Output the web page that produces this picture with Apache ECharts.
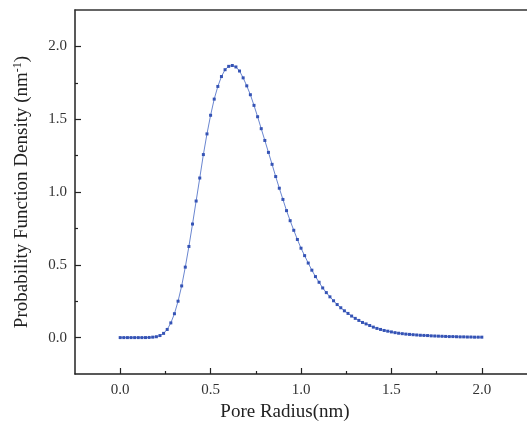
<!DOCTYPE html>
<html>
<head>
<meta charset="utf-8">
<script src="https://cdn.jsdelivr.net/npm/echarts@6/dist/echarts.min.js"></script>
<style>html,body{margin:0;padding:0;background:#fff}#c{width:527px;height:427px}</style>
</head>
<body>
<div id="c"></div>
<script>
var radius = [0.00,0.02,0.04,0.06,0.08,0.10,0.12,0.14,0.16,0.18,
  0.20,0.22,0.24,0.26,0.28,0.30,0.32,0.34,0.36,0.38,
  0.40,0.42,0.44,0.46,0.48,0.50,0.52,0.54,0.56,0.58,
  0.60,0.62,0.64,0.66,0.68,0.70,0.72,0.74,0.76,0.78,
  0.80,0.82,0.84,0.86,0.88,0.90,0.92,0.94,0.96,0.98,
  1.00,1.02,1.04,1.06,1.08,1.10,1.12,1.14,1.16,1.18,
  1.20,1.22,1.24,1.26,1.28,1.30,1.32,1.34,1.36,1.38,
  1.40,1.42,1.44,1.46,1.48,1.50,1.52,1.54,1.56,1.58,
  1.60,1.62,1.64,1.66,1.68,1.70,1.72,1.74,1.76,1.78,
  1.80,1.82,1.84,1.86,1.88,1.90,1.92,1.94,1.96,1.98,2.00];
var density = [0,0,0,0,0,0,0,0.0002,0.001,0.003,
  0.006,0.014,0.029,0.056,0.101,0.164,0.250,0.355,0.484,0.626,
  0.780,0.938,1.096,1.257,1.399,1.527,1.638,1.725,1.793,1.840,
  1.863,1.869,1.859,1.831,1.784,1.729,1.668,1.595,1.517,1.435,
  1.354,1.272,1.190,1.106,1.026,0.949,0.872,0.803,0.737,0.674,
  0.614,0.563,0.512,0.463,0.419,0.380,0.341,0.309,0.280,0.253,
  0.227,0.205,0.184,0.166,0.148,0.132,0.118,0.104,0.094,0.083,
  0.072,0.063,0.056,0.049,0.044,0.039,0.034,0.030,0.027,0.024,
  0.022,0.020,0.018,0.016,0.015,0.014,0.012,0.011,0.010,0.009,
  0.008,0.007,0.007,0.006,0.005,0.005,0.004,0.004,0.003,0.003,0.003];
var xMajor = [0, 0.5, 1.0, 1.5, 2.0];
var xMinor = [0.25, 0.75, 1.25, 1.75];
var yMajor = [0, 0.5, 1.0, 1.5, 2.0];
var yMinor = [0.25, 0.75, 1.25, 1.75];

var pts = radius.map(function (r, i) { return [r, density[i]]; });
var serif = '"Liberation Serif", "DejaVu Serif", serif';
var lineStyle = { color: '#222', width: 1.5 };

var chart = echarts.init(document.getElementById('c'), null, { renderer: 'canvas' });
chart.setOption({
  animation: false,
  backgroundColor: '#fff',
  grid: { left: 75, right: -2, top: 10, bottom: 50 },
  xAxis: [
    {
      type: 'value', position: 'bottom', min: -0.25, max: 2.25,
      axisLine: { show: true, onZero: false, lineStyle: lineStyle },
      axisTick: { show: true, inside: true, length: 6, customValues: xMajor, lineStyle: { color: '#222', width: 1.2 } },
      axisLabel: { customValues: xMajor, margin: 9, color: '#333', fontFamily: serif, fontSize: 15,
        formatter: function (v) { return v.toFixed(1); } },
      splitLine: { show: false },
      name: 'Pore Radius(nm)', nameLocation: 'middle', nameGap: 29,
      nameTextStyle: { fontFamily: serif, fontSize: 19, color: '#222', padding: [0, 32, 0, 0] }
    },
    {
      type: 'value', position: 'bottom', min: -0.25, max: 2.25,
      axisLine: { show: false, onZero: false },
      axisTick: { show: true, inside: true, length: 3, customValues: xMinor, lineStyle: { color: '#222', width: 1.2 } },
      axisLabel: { show: false },
      splitLine: { show: false }
    },
    {
      type: 'value', position: 'top', min: -0.25, max: 2.25,
      axisLine: { show: true, onZero: false, lineStyle: { color: '#333', width: 1.5 } },
      axisTick: { show: false }, axisLabel: { show: false }, splitLine: { show: false }
    }
  ],
  yAxis: [
    {
      type: 'value', position: 'left', min: -0.25, max: 2.25,
      axisLine: { show: true, onZero: false, lineStyle: lineStyle },
      axisTick: { show: true, inside: true, length: 6, customValues: yMajor, lineStyle: { color: '#222', width: 1.2 } },
      axisLabel: { customValues: yMajor, margin: 8, color: '#333', fontFamily: serif, fontSize: 15,
        formatter: function (v) { return v.toFixed(1); } },
      splitLine: { show: false },
      name: 'Probability Function Density (nm{sup|-1})', nameLocation: 'middle', nameGap: 43,
      nameTextStyle: { fontFamily: serif, fontSize: 19, color: '#222',
        rich: { sup: { fontFamily: serif, fontSize: 12, color: '#222', verticalAlign: 'top', padding: [0, 0, 8, 0] } } }
    },
    {
      type: 'value', position: 'left', min: -0.25, max: 2.25,
      axisLine: { show: false, onZero: false },
      axisTick: { show: true, inside: true, length: 3, customValues: yMinor, lineStyle: { color: '#222', width: 1.2 } },
      axisLabel: { show: false },
      splitLine: { show: false }
    }
  ],
  series: [{
    type: 'line', xAxisIndex: 0, yAxisIndex: 0, data: pts,
    symbol: 'rect', symbolSize: 3, showAllSymbol: true,
    lineStyle: { color: '#6a86d0', width: 1 },
    itemStyle: { color: '#3553b5' }
  }]
});
</script>
</body>
</html>
